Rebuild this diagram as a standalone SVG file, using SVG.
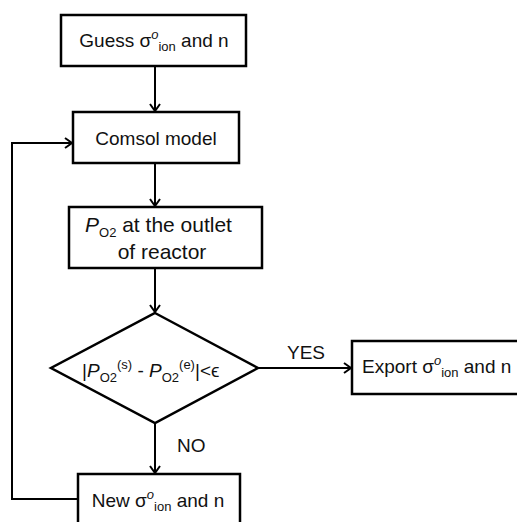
<svg xmlns="http://www.w3.org/2000/svg" width="517" height="522" viewBox="0 0 517 522">
<defs>
<marker id="arr" markerWidth="12" markerHeight="12" refX="10" refY="6" orient="auto" markerUnits="userSpaceOnUse">
<path d="M3,1 L10,6 L3,11" fill="none" stroke="#000" stroke-width="2"/>
</marker>
<style>
.box{fill:#fff;stroke:#000;stroke-width:2.5}
.ln{fill:none;stroke:#000;stroke-width:2}
text{font-family:"Liberation Sans",Arial,sans-serif;font-size:19px;fill:#111}
.sm{font-size:13px}
.it{font-style:italic}
.big{font-size:21px}
</style>
</defs>
<rect width="517" height="522" fill="#fff"/>
<g id="connectors">
<line class="ln" x1="155" y1="66" x2="155" y2="111" marker-end="url(#arr)"/>
<line class="ln" x1="155" y1="163" x2="155" y2="206" marker-end="url(#arr)"/>
<line class="ln" x1="155" y1="268" x2="155" y2="312" marker-end="url(#arr)"/>
<line class="ln" x1="258" y1="368" x2="351" y2="368" marker-end="url(#arr)"/>
<line class="ln" x1="155" y1="423" x2="155" y2="473" marker-end="url(#arr)"/>
<polyline class="ln" points="77,499 12,499 12,143 72,143" marker-end="url(#arr)"/>
<text x="287" y="359">YES</text>
<text x="177" y="452">NO</text>
</g>
<g id="guess">
<rect class="box" x="61" y="15" width="185" height="51"/>
<text x="154" y="47" text-anchor="middle">Guess σ<tspan class="sm it" dy="-8">o</tspan><tspan class="sm" dy="12">ion</tspan><tspan dy="-4"> and n</tspan></text>
</g>
<g id="comsol">
<rect class="box" x="73" y="112" width="166" height="51"/>
<text x="156" y="145" text-anchor="middle">Comsol model</text>
</g>
<g id="po2">
<rect class="box" x="69" y="207" width="193" height="61"/>
<text class="big" x="85" y="232"><tspan class="it">P</tspan><tspan class="sm" dy="5">O2</tspan><tspan dy="-5">  at the outlet</tspan></text>
<text class="big" x="162" y="259" text-anchor="middle">of reactor</text>
</g>
<g id="decision">
<polygon class="box" points="155,313 258,368 155,423 51,368"/>
<text x="82" y="377">|<tspan class="it">P</tspan><tspan class="sm" dy="5">O2</tspan><tspan class="sm" dy="-13">(s)</tspan><tspan dy="8"> - </tspan><tspan class="it">P</tspan><tspan class="sm" dy="5">O2</tspan><tspan class="sm" dy="-13">(e)</tspan><tspan dy="8">|&lt;ϵ</tspan></text>
</g>
<g id="export">
<rect class="box" x="352" y="341" width="170" height="53"/>
<text x="362" y="373">Export σ<tspan class="sm it" dy="-8">o</tspan><tspan class="sm" dy="12">ion</tspan><tspan dy="-4"> and n</tspan></text>
</g>
<g id="new">
<rect class="box" x="78" y="474" width="162" height="60"/>
<text x="158" y="507" text-anchor="middle">New σ<tspan class="sm it" dy="-8">o</tspan><tspan class="sm" dy="12">ion</tspan><tspan dy="-4"> and n</tspan></text>
</g>
</svg>
